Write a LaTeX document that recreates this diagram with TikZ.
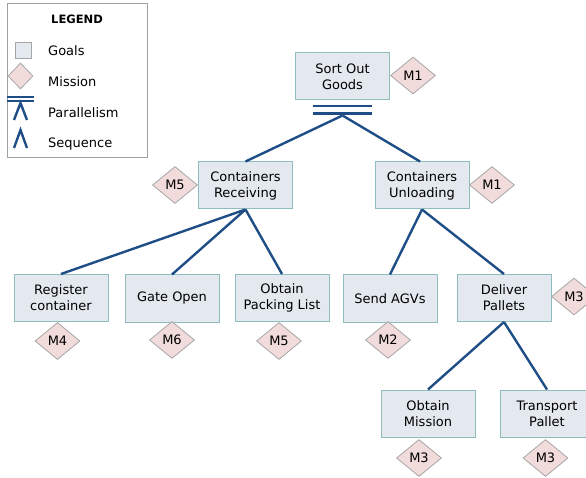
\documentclass[tikz,border=0pt]{standalone}
\usepackage{fontspec}
\setmainfont{DejaVu Sans}
\usetikzlibrary{shapes.geometric}
\definecolor{goalfill}{HTML}{E4E9F0}
\definecolor{goaldraw}{HTML}{8FBCBF}
\definecolor{misfill}{HTML}{F2DCDB}
\definecolor{misdraw}{HTML}{A6A6A6}
\definecolor{linkc}{HTML}{1F4E87}
\definecolor{legdraw}{HTML}{A0A0A0}
\tikzset{
  goal/.style={draw=goaldraw, fill=goalfill, line width=1pt, minimum width=94pt, minimum height=47pt,
    inner sep=0pt, align=center, font=\fontsize{13}{16}\selectfont},
  mission/.style={diamond, draw=misdraw, fill=misfill, line width=0.8pt, minimum width=45pt, minimum height=37pt,
    inner sep=0pt, aspect=1.2, font=\fontsize{13}{15}\selectfont},
  link/.style={draw=linkc, line width=2.4pt},
  legtext/.style={anchor=west, font=\fontsize{13}{15}\selectfont, inner sep=0pt},
}
\begin{document}
\begin{tikzpicture}[x=1pt, y=-1pt]
\useasboundingbox (0,0) rectangle (586,478);
% legend
\node[draw=legdraw, line width=0.8pt, minimum width=140pt, minimum height=154pt, inner sep=0pt] (legend) at (77,80) {};
\node[font=\bfseries\fontsize{11.5}{14}\selectfont] (legtitle) at (77,19) {LEGEND};
\node[draw=misdraw, fill=goalfill, line width=0.8pt, minimum size=16pt, inner sep=0pt] (lgoal) at (23,50) {};
\node[legtext] (tgoal) at (48,51) {Goals};
\node[diamond, draw=misdraw, fill=misfill, line width=0.8pt, minimum width=25pt, minimum height=26pt, inner sep=0pt] (lmis) at (20.5,76) {};
\node[legtext] (tmis) at (48,82) {Mission};
\draw[link, line width=2.2pt] (7,96.7) -- (34,96.7);
\draw[link, line width=2.2pt] (7,100.9) -- (34,100.9);
\draw[link, line width=2.4pt] (14,120) -- (20.5,103) -- (27,120);
\node[legtext] (tpar) at (48,113) {Parallelism};
\draw[link, line width=2.4pt] (14,148) -- (20.5,130) -- (27,148);
\node[legtext] (tseq) at (48,144) {Sequence};
% goals
\node[goal] (sog) at (342.5,76.5) {Sort Out\\Goods};
\node[mission] (m1a) at (413,75.5) {M1};
\coordinate (apex) at (342.5,115.5);
\draw[link, line width=2.2pt] (313,105.7) -- (372,105.7);
\draw[link, line width=2.2pt] (313,113.5) -- (372,113.5);
\node[goal] (cr) at (245.5,185.5) {Containers\\Receiving};
\node[mission] (m5a) at (175,185) {M5};
\node[goal] (cu) at (422,185.5) {Containers\\Unloading};
\node[mission] (m1b) at (492,185) {M1};
\node[goal] (rc) at (61,298) {Register\\container};
\node[mission] (m4) at (57.5,341) {M4};
\node[goal] (go) at (172,298.5) {Gate Open};
\node[mission] (m6) at (172,340) {M6};
\node[goal] (opl) at (282,298) {Obtain\\Packing List};
\node[mission] (m5b) at (279,341) {M5};
\node[goal] (sa) at (390,298.5) {Send AGVs};
\node[mission] (m2) at (388,340) {M2};
\node[goal] (dp) at (504,298) {Deliver\\Pallets};
\node[mission] (m3a) at (574,296.5) {M3};
\node[goal] (om) at (428,413.5) {Obtain\\Mission};
\node[mission] (m3b) at (419,458) {M3};
\node[goal] (tp) at (547,413.5) {Transport\\Pallet};
\node[mission] (m3c) at (545.5,458) {M3};
% links
\draw[link] (apex) -- (cr.north);
\draw[link] (apex) -- ([xshift=-2pt]cu.north);
\draw[link] (cr.south) -- (rc.north);
\draw[link] (cr.south) -- (go.north);
\draw[link] (cr.south) -- (opl.north);
\draw[link] (cu.south) -- (sa.north);
\draw[link] (cu.south) -- (dp.north);
\draw[link] (dp.south) -- (om.north);
\draw[link] (dp.south) -- (tp.north);
\end{tikzpicture}
\end{document}
